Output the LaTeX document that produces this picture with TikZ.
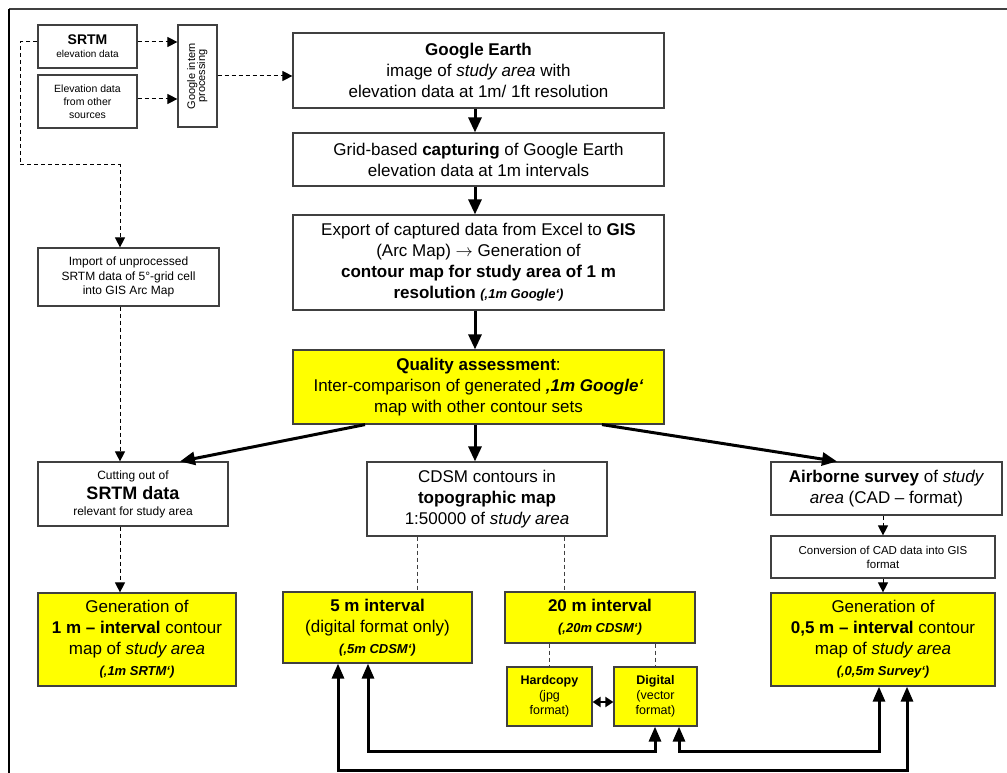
\documentclass[tikz,border=0pt]{standalone}
\usepackage{fontspec}
\setmainfont{Liberation Sans}
\usetikzlibrary{arrows.meta}
\definecolor{boxyellow}{RGB}{255,255,0}
\definecolor{edgegray}{RGB}{64,64,64}
\newcommand{\fsz}[2]{\fontsize{#1}{#2}\selectfont}
\newcommand{\qtag}[1]{{\fontsize{13}{16}\selectfont\bfseries\itshape #1}}
\tikzset{
	box/.style={draw=edgegray, line width=1.2pt, align=center, inner sep=1pt, font=\fontsize{17}{21}\selectfont},
	ybox/.style={box, fill=boxyellow},
	flow/.style={line width=3pt, -{Triangle[length=15pt,width=13pt]}},
	loop/.style={line width=3pt, {Triangle[length=15pt,width=12pt]}-{Triangle[length=15pt,width=12pt]}},
	dasharrow/.style={line width=1pt, dash pattern=on 4pt off 3pt, -{Triangle[length=10pt,width=10pt]}},
	dashline/.style={line width=1pt, draw=edgegray, dash pattern=on 4pt off 3pt}
}
\begin{document}
\begin{tikzpicture}[x=1pt,y=-1pt]
				\useasboundingbox (0,0) rectangle (1007,773);
				\draw[line width=1.8pt, draw=edgegray] (1007,9) -- (9,9);
				\draw[line width=1.8pt] (9,9) -- (9,773);
				
				\node[box, minimum width=99, minimum height=43, font=\fsz{10}{13}] (srtm) at (87.5,46.5) {{\fsz{14}{16}\bfseries SRTM}\\elevation data};
				\node[box, minimum width=99, minimum height=53, font=\fsz{10.5}{13}] (other) at (87.5,101.5) {Elevation data\\from other\\sources};
				\node[box, minimum width=39, minimum height=102, font=\fsz{11}{13}] (intern) at (197.5,76) {\rotatebox{90}{\begin{tabular}{@{}c@{}}Google intern\\[-3pt]processing\end{tabular}}};
				
				\node[box, minimum width=371, minimum height=75] (gearth) at (478.5,70.5) {\textbf{Google Earth}\\image of \textit{study area} with\\elevation data at 1m/ 1ft resolution};
				\node[box, minimum width=371, minimum height=53] (grid) at (478.5,159.5) {Grid-based \textbf{capturing} of Google Earth\\elevation data at 1m intervals};
				\node[box, minimum width=371, minimum height=95] (export) at (478.5,262.5) {Export of captured data from Excel to \textbf{GIS}\\(Arc Map) $\rightarrow$ Generation of\\\textbf{contour map for study area of 1 m}\\\textbf{resolution} \qtag{(‚1m Google‘)}};
				\node[ybox, minimum width=371, minimum height=74] (quality) at (478.5,387) {\textbf{Quality assessment}:\\Inter-comparison of generated \textbf{\textit{‚1m Google‘}}\\map with other contour sets};
				
				\node[box, minimum width=181, minimum height=58, font=\fsz{12}{14.5}] (import) at (128.5,277) {Import of unprocessed\\SRTM data of 5°-grid cell\\into GIS Arc Map};
				\node[box, minimum width=190, minimum height=64, font=\fsz{12}{16}] (cutting) at (133,494) {Cutting out of\\[4pt]{\fsz{18}{20}\bfseries SRTM data}\\relevant for study area};
				\node[ybox, minimum width=198, minimum height=93] (gen1) at (137,639.5) {Generation of\\\textbf{1 m – interval} contour\\map of \textit{study area}\\\qtag{(‚1m SRTM‘)}};
				
				\node[box, minimum width=240, minimum height=74] (cdsm) at (487,499) {CDSM contours in\\\textbf{topographic map}\\1:50000 of \textit{study area}};
				\node[ybox, minimum width=189, minimum height=71] (fivem) at (377.5,627.5) {\textbf{5 m interval}\\(digital format only)\\\qtag{(‚5m CDSM‘)}};
				\node[ybox, minimum width=190, minimum height=51] (twentym) at (600,617.5) {\textbf{20 m interval}\\\qtag{(‚20m CDSM‘)}};
				\node[ybox, minimum width=85, minimum height=59, font=\fsz{12.5}{15}] (hard) at (549.5,696.5) {\textbf{Hardcopy}\\(jpg\\format)};
				\node[ybox, minimum width=83, minimum height=59, font=\fsz{12.5}{15}] (digi) at (655.5,696.5) {\textbf{Digital}\\(vector\\format)};
				
				\node[box, minimum width=231, minimum height=53] (air) at (886.5,488.5) {\textbf{Airborne survey} of \textit{study}\\\textit{area} (CAD – format)};
				\node[box, minimum width=224, minimum height=42, font=\fsz{11.5}{14}] (conv) at (883,557) {Conversion of CAD data into GIS\\format};
				\node[ybox, minimum width=224, minimum height=93] (gen05) at (883,639.5) {Generation of\\\textbf{0,5 m – interval} contour\\map of \textit{study area}\\\qtag{(‚0,5m Survey‘)}};
				
				\draw[dasharrow] ([yshift=4.5pt]srtm.east) -- ([yshift=4.5pt]srtm.east -| intern.west);
				\draw[dasharrow] ([yshift=2.5pt]other.east) -- ([yshift=2.5pt]other.east -| intern.west);
				\draw[dasharrow] (intern.east) -- (intern.east -| gearth.west);
				\draw[dasharrow] ([yshift=4.5pt]srtm.west) -- ++(-17,0) -- ++(0,123) -| ([xshift=-8.5pt]import.north);
				\draw[dasharrow] ([xshift=-8.5pt]import.south) -- ([xshift=-13pt]cutting.north);
				\draw[dasharrow] ([xshift=-13pt]cutting.south) -- ([xshift=-17pt]gen1.north);
				
				\draw[flow] ([xshift=-3.5pt]gearth.south) -- ([xshift=-3.5pt]grid.north);
				\draw[flow] ([xshift=-3.5pt]grid.south) -- ([xshift=-3.5pt]export.north);
				\draw[flow] ([xshift=-3.5pt]export.south) -- ([xshift=-3.5pt]quality.north);
				\draw[flow] ([xshift=-113.5pt]quality.south) -- ([xshift=47pt]cutting.north);
				\draw[flow] ([xshift=-3.5pt]quality.south) -- ([xshift=-3.5pt]quality.south |- cdsm.north);
				\draw[flow] ([xshift=123.5pt]quality.south) -- ([xshift=-49.5pt]air.north);
				
				\draw[dashline] ([xshift=-70pt]cdsm.south) -- ([xshift=-70pt]cdsm.south |- fivem.north);
				\draw[dashline] ([xshift=77pt]cdsm.south) -- ([xshift=77pt]cdsm.south |- twentym.north);
				\draw[dashline] (hard.north |- twentym.south) -- (hard.north);
				\draw[dashline] (digi.north |- twentym.south) -- (digi.north);
				\draw[line width=2pt, {Triangle[length=8pt,width=10pt]}-{Triangle[length=8pt,width=10pt]}] ([yshift=-5.5pt]hard.east) -- ([yshift=-5.5pt]digi.west);
				
				\draw[dasharrow] (conv.north |- air.south) -- (conv.north);
				\draw[dasharrow] (conv.south) -- (gen05.north);
				
				\draw[loop] ([xshift=-9.5pt]fivem.south) -- ++(0,88) -| ([xshift=-0.5pt]digi.south);
				\draw[loop] ([xshift=23.5pt]digi.south) -- ++(0,25) -| ([xshift=-4pt]gen05.south);
				\draw[loop] ([xshift=-39.5pt]fivem.south) -- ++(0,107) -| ([xshift=24pt]gen05.south);
			\end{tikzpicture}
\end{document}
